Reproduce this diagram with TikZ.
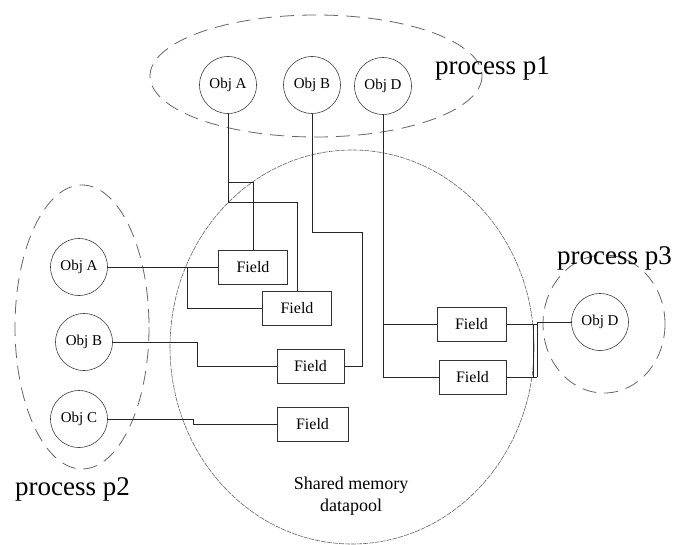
\documentclass[tikz,border=0pt]{standalone}
\usepackage{fontspec}
\setmainfont{Liberation Serif}
\begin{document}
\begin{tikzpicture}[x=1pt,y=-1pt,
  obj/.style={circle,draw=black!75,line width=0.6pt,minimum size=57pt,inner sep=0pt,font=\fontsize{15}{17}\selectfont},
  field/.style={draw=black!80,line width=0.7pt,minimum width=69pt,minimum height=34pt,inner sep=0pt,font=\fontsize{16}{18}\selectfont},
  proc/.style={draw=black!60,line width=0.8pt,dash pattern=on 14pt off 8pt},
  pool/.style={draw=black!60,line width=0.6pt,dash pattern=on 5pt off 1pt},
  conn/.style={draw=black!85,line width=0.6pt},
  big/.style={font=\fontsize{27}{30}\selectfont,inner sep=0pt}]
\useasboundingbox (0,0) rectangle (676,545);
\fill[white] (0,0) rectangle (676,545);
% process groups and shared pool
\draw[proc] (316,76) ellipse [x radius=166, y radius=61];
\draw[proc] (82,327) ellipse [x radius=67, y radius=142];
\draw[proc] (604,324) ellipse [x radius=61, y radius=69];
\draw[pool] (352,347) ellipse [x radius=182, y radius=197];
% objects
\node[obj] (a1) at (228,85) {Obj A};
\node[obj] (b1) at (312,85) {Obj B};
\node[obj] (d1) at (383,86) {Obj D};
\node[obj] (a2) at (79,267) {Obj A};
\node[obj] (b2) at (84,342) {Obj B};
\node[obj] (c2) at (79,419) {Obj C};
\node[obj] (d3) at (600,322) {Obj D};
% fields
\node[field] (f1) at (253,267) {Field};
\node[field] (f2) at (297,308.5) {Field};
\node[field,minimum width=67pt] (f3) at (310.5,366) {Field};
\node[field,minimum width=71pt] (f4) at (312.5,424) {Field};
\node[field] (f5) at (471.5,324) {Field};
\node[field,minimum width=67pt] (f6) at (472.5,377) {Field};
% helper coordinates
\coordinate (ya) at (0,182);
\coordinate (yb) at (0,202);
\coordinate (xa) at (187,0);
\coordinate (xb1) at (362,232);
\coordinate (xb2) at (197,0);
\coordinate (xc) at (193,0);
\coordinate (xr) at (537,0);
\coordinate (xr2) at (533,0);
% connectors
\draw[conn] (a1.south) -- (a1.south |- yb) -- (f2.north |- yb) -- (f2.north);
\draw[conn] (a1.south |- ya) -- (f1.north |- ya) -- (f1.north);
\draw[conn] (a2.east) -- (a2.east -| f1.west);
\draw[conn] (a2.east -| xa) -- (f2.west -| xa) -- (f2.west);
\draw[conn] (b1.south) |- (xb1) |- (f3.east);
\draw[conn] (b2.east) -- (b2.east -| xb2) |- (f3.west);
\draw[conn] (c2.east) -- (c2.east -| xc) |- (f4.west);
\draw[conn] (d1.south) -- (d1.south |- f6.west) -- (f6.west);
\draw[conn] (d1.south |- f5.west) -- (f5.west);
\draw[conn] (f5.east) -- (f5.east -| xr);
\draw[conn] (f6.east) -- (f6.east -| xr);
\draw[conn] (d3.west) -- (d3.west -| xr) -- (f6.east -| xr);
\draw[conn] (f5.east -| xr2) -- (f6.east -| xr2);
% labels
\node[big,anchor=base west] (p1) at (435,75) {process p1};
\node[big,anchor=base west] (p2) at (15,495) {process p2};
\node[big,anchor=base west] (p3) at (557,264) {process p3};
\node[font=\fontsize{18}{22}\selectfont,align=center,inner sep=0pt] (sm) at (351,496) {Shared memory\\datapool};
\end{tikzpicture}
\end{document}
